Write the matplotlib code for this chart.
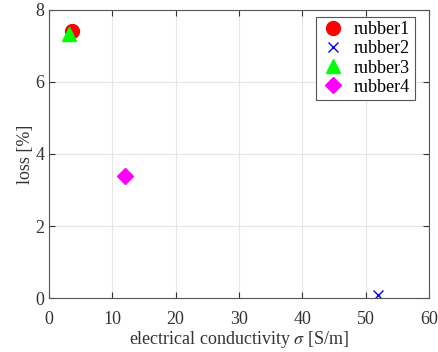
import matplotlib
matplotlib.use("Agg")
import matplotlib.pyplot as plt

plt.rcParams['font.family'] = ['Liberation Serif', 'DejaVu Serif']
plt.rcParams['mathtext.fontset'] = 'stix'

# data
names = ['rubber1', 'rubber2', 'rubber3', 'rubber4']
sigma = [3.6, 51.9, 3.2, 12.0]
loss = [7.42, 0.08, 7.33, 3.40]
markers = ['o', 'x', '^', 'D']
colors = ['red', 'blue', '#00ff00', 'magenta']
sizes = [10, 7, 10, 8]

fig = plt.figure(figsize=(4.38, 3.52), dpi=100)
ax = fig.add_axes([0.112, 0.153, 0.867, 0.819])

for n, x, y, m, c, s in zip(names, sigma, loss, markers, colors, sizes):
    if m == 'x':
        ax.plot(x, y, m, color=c, ms=s, mew=1.0, label=n, linestyle='none')
    else:
        ax.plot(x, y, m, color=c, ms=s, mec=c, label=n, linestyle='none')

ax.set_xlim(0, 60)
ax.set_ylim(0, 8)
ax.set_xticks(range(0, 61, 10))
ax.set_yticks(range(0, 9, 2))
ax.grid(True, color='#e6e6e6', linewidth=0.8)
ax.set_axisbelow(True)
for sp in ax.spines.values():
    sp.set_color('#555555')
    sp.set_linewidth(0.8)
ax.tick_params(direction='in', top=True, right=True, labelsize=13, colors='#333333', length=4)
ax.tick_params(axis='x', pad=9)
ax.set_xlabel(r'electrical conductivity $\sigma$ [S/m]', fontsize=13, color='#333333', labelpad=1)
ax.set_ylabel('loss [%]', fontsize=13, color='#333333', labelpad=1)

leg = ax.legend(loc='upper right', bbox_to_anchor=(0.963, 0.976), fontsize=13,
                fancybox=False, edgecolor='#555555', framealpha=1, borderaxespad=0,
                handletextpad=0.45, labelspacing=0.12, borderpad=0.25, handlelength=1.4)
leg.get_frame().set_linewidth(0.8)

fig.savefig('out.png', dpi=100)
